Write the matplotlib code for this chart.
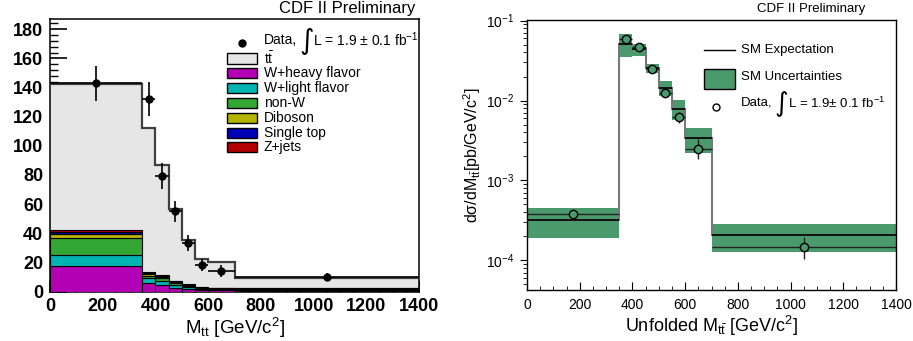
"""
CDF II top-pair invariant mass: reconstructed M_tt stack (left) and
unfolded dsigma/dM_tt compared to SM expectation (right).
"""
import matplotlib
matplotlib.use("Agg")
import matplotlib.pyplot as plt
import numpy as np
from matplotlib.lines import Line2D
from matplotlib.patches import Rectangle
from matplotlib.ticker import MultipleLocator, LogLocator, NullFormatter

plt.rcParams["font.family"] = ["Liberation Sans", "DejaVu Sans"]
plt.rcParams["mathtext.fontset"] = "custom"
plt.rcParams["mathtext.rm"] = "Liberation Sans"
plt.rcParams["mathtext.it"] = "Liberation Sans:italic"
plt.rcParams["mathtext.bf"] = "Liberation Sans:bold"

# ---- binning (GeV/c^2) ----
EDGES = np.array([0, 350, 400, 450, 500, 550, 600, 700, 1400])

# ---- left: reconstructed M_tt, events per bin ----
W_HEAVY = np.array([17.4, 6.0, 4.4, 2.5, 1.5, 1.0, 0.8, 0.5])
W_LIGHT = np.array([7.6, 3.0, 2.6, 2.0, 1.5, 1.0, 0.8, 0.5])
NON_W   = np.array([12.0, 1.3, 2.0, 1.5, 1.0, 0.4, 0.4, 0.5])
DIBOSON = np.array([2.4, 1.7, 0.8, 0.6, 0.4, 0.2, 0.2, 0.3])
SINGLE_TOP = np.array([1.3, 0.7, 0.7, 0.4, 0.3, 0.2, 0.2, 0.3])
Z_JETS  = np.array([1.3, 0.6, 0.7, 0.5, 0.3, 0.2, 0.1, 0.3])
TTBAR   = np.array([100.5, 98.7, 75.8, 49.0, 30.5, 19.0, 17.5, 7.1])

DATA_X   = np.array([175, 375, 425, 475, 525, 575, 650, 1050])
DATA_N   = np.array([143, 132, 79, 55, 33, 18, 14, 10])
DATA_ERR = np.array([12, 11.5, 9, 7, 5.5, 4, 4, 3])

BKG_NAMES  = ["W+heavy flavor", "W+light flavor", "non-W", "Diboson", "Single top", "Z+jets"]
BKG_COLORS = ["#b400b4", "#00b4b4", "#33a633", "#b4b400", "#0000b4", "#b40000"]
TT_COLOR   = "#e6e6e6"

# ---- right: unfolded differential cross section (pb/GeV/c^2) ----
SM_XS   = np.array([3.2e-4, 0.0516, 0.0437, 0.0259, 0.0144, 0.00794, 0.00341, 2.05e-4])
SM_LO   = np.array([1.91e-4, 0.0351, 0.0361, 0.0221, 0.01143, 0.00579, 0.00221, 1.28e-4])
SM_HI   = np.array([4.46e-4, 0.0674, 0.0506, 0.0290, 0.0174, 0.0101, 0.00451, 2.84e-4])
UNF_XS  = np.array([3.76e-4, 0.0589, 0.0463, 0.0246, 0.01233, 0.00618, 0.00246, 1.48e-4])
UNF_DN  = np.array([0.35e-4, 0.004, 0.003, 0.002, 0.0012, 0.0009, 0.0006, 0.45e-4])
UNF_UP  = np.array([0.35e-4, 0.004, 0.003, 0.002, 0.0012, 0.0010, 0.0008, 0.46e-4])
BAND_COLOR = "#4a9a6e"

W, H = 913, 341


def fx(px):
    return px / W


def fy(py):
    return 1 - py / H


def data_label(fig, x, y, size, tail):
    # "Data, ∫ L = ..." with an oversized integral sign
    fig.text(fx(x), fy(y), "Data,", fontsize=size, va="center")
    fig.text(fx(x + 35 * size / 10), fy(y + 1), "\u222b", fontsize=size * 2.0,
             va="center", family=["DejaVu Sans"])
    fig.text(fx(x + 49 * size / 10), fy(y), tail, fontsize=size, va="center")


fig = plt.figure(figsize=(W / 100, H / 100), dpi=100)

# ================= left panel =================
ax = fig.add_axes([fx(50), fy(291.5), fx(419) - fx(50), fy(19) - fy(291.5)])
lefts, widths = EDGES[:-1], np.diff(EDGES)
bottom = np.zeros(len(lefts))
for vals, col in zip([W_HEAVY, W_LIGHT, NON_W, DIBOSON, SINGLE_TOP, Z_JETS], BKG_COLORS):
    ax.bar(lefts, vals, width=widths, bottom=bottom, align="edge", color=col,
           edgecolor="black", linewidth=0.8, zorder=3)
    bottom = bottom + vals
total = bottom + TTBAR
ax.stairs(total, EDGES, baseline=bottom, fill=True, color=TT_COLOR, zorder=2)
ax.stairs(total, EDGES, baseline=None, color="#404040", linewidth=1.6, zorder=4)
ax.errorbar(DATA_X, DATA_N, yerr=DATA_ERR, xerr=widths / 2, fmt="o", color="black",
            ms=5, elinewidth=1.2, capsize=0, zorder=5)

ax.set_xlim(0, 1400)
ax.set_ylim(0, 187)
ax.xaxis.set_major_locator(MultipleLocator(200))
ax.xaxis.set_minor_locator(MultipleLocator(50))
ax.yaxis.set_major_locator(MultipleLocator(20))
ax.yaxis.set_minor_locator(MultipleLocator(4))
ax.tick_params(which="both", direction="in", top=False, right=False)
ax.tick_params(axis="y", which="major", length=12, width=1.2, pad=5)
ax.tick_params(axis="y", which="minor", length=6, width=1.0)
ax.tick_params(axis="x", which="major", length=8, width=1.2, pad=5)
ax.tick_params(axis="x", which="minor", length=4, width=1.0)
for lab in ax.get_xticklabels() + ax.get_yticklabels():
    lab.set_fontsize(13)
    lab.set_fontweight("bold")
for sp in ax.spines.values():
    sp.set_linewidth(1.1)
ax.set_xlabel(r"M$_{\mathrm{tt}}$ [GeV/c$^{2}$]", fontsize=13.5, labelpad=0)

fig.text(fx(415), fy(9), "CDF II Preliminary", fontsize=12, ha="right", va="center")

# legend (left)
fig.add_artist(Line2D([fx(242)], [fy(43)], marker="o", color="black", ms=5,
                      transform=fig.transFigure))
data_label(fig, 264, 40, 10, r"L = 1.9 $\pm$ 0.1 fb$^{-1}$")
rows = [(r"t$\mathrm{\bar{t}}$", TT_COLOR)] + list(zip(BKG_NAMES, BKG_COLORS))
for i, (name, col) in enumerate(rows):
    yc = 58.5 + i * 14.8
    fig.add_artist(Rectangle((fx(227), fy(yc + 5)), fx(257) - fx(227), fy(yc - 5) - fy(yc + 5),
                             facecolor=col, edgecolor="black", linewidth=1.0,
                             transform=fig.transFigure))
    fig.text(fx(264), fy(yc), name, fontsize=10, va="center")

# ================= right panel =================
ax2 = fig.add_axes([fx(527), fy(290), fx(896) - fx(527), fy(20) - fy(290)])
ax2.set_yscale("log")
ax2.bar(lefts, SM_HI - SM_LO, width=widths, bottom=SM_LO, align="edge",
        color=BAND_COLOR, linewidth=0, zorder=2)
ax2.stairs(SM_XS, EDGES, baseline=None, color="#777777", linewidth=1.5, zorder=3)
ax2.hlines(SM_XS, EDGES[:-1], EDGES[1:], color="black", linewidth=1.2, zorder=4)
ax2.errorbar(DATA_X, UNF_XS, yerr=[UNF_DN, UNF_UP], xerr=widths / 2, fmt="o",
             mfc=BAND_COLOR, mec="black", mew=1.0, ms=6, ecolor="#222222",
             elinewidth=1.0, capsize=0, zorder=5)

ax2.set_xlim(0, 1400)
ax2.set_ylim(4.25e-5, 0.102)
ax2.xaxis.set_major_locator(MultipleLocator(200))
ax2.xaxis.set_minor_locator(MultipleLocator(50))
ax2.yaxis.set_major_locator(LogLocator(base=10, numticks=10))
ax2.yaxis.set_minor_locator(LogLocator(base=10, subs=np.arange(2, 10), numticks=10))
ax2.yaxis.set_minor_formatter(NullFormatter())
ax2.tick_params(which="both", top=False, right=False, labelsize=10)
ax2.tick_params(axis="x", which="major", direction="in", length=6, pad=6)
ax2.tick_params(axis="x", which="minor", direction="in", length=3)
ax2.tick_params(axis="y", which="major", direction="out", length=5, pad=4)
ax2.tick_params(axis="y", which="minor", direction="out", length=3)
for sp in ax2.spines.values():
    sp.set_linewidth(1.0)
ax2.set_xlabel(r"Unfolded M$_{\mathrm{t\bar{t}}}$ [GeV/c$^{2}$]", fontsize=13, labelpad=1)
ax2.set_ylabel("d\u03c3/dM$_{\\mathrm{t\\bar{t}}}$[pb/GeV/c$^{2}$]", fontsize=11.5, labelpad=2)

fig.text(fx(865), fy(9), "CDF II Preliminary", fontsize=9.5, ha="right", va="center")

# legend (right)
fig.add_artist(Line2D([fx(704), fx(735)], [fy(50), fy(50)], color="black", linewidth=1.0,
                      transform=fig.transFigure))
fig.text(fx(741), fy(50), "SM Expectation", fontsize=9.5, va="center")
fig.add_artist(Rectangle((fx(704), fy(89)), fx(735) - fx(704), fy(69) - fy(89),
                         facecolor=BAND_COLOR, edgecolor="black", linewidth=1.0,
                         transform=fig.transFigure))
fig.text(fx(741), fy(77), "SM Uncertainties", fontsize=9.5, va="center")
fig.add_artist(Line2D([fx(716)], [fy(107)], marker="o", mfc="white", mec="black",
                      ms=5, transform=fig.transFigure))
data_label(fig, 741, 103, 9.5, r"L = 1.9$\pm$ 0.1 fb$^{-1}$")

fig.savefig("out.png", dpi=100)
